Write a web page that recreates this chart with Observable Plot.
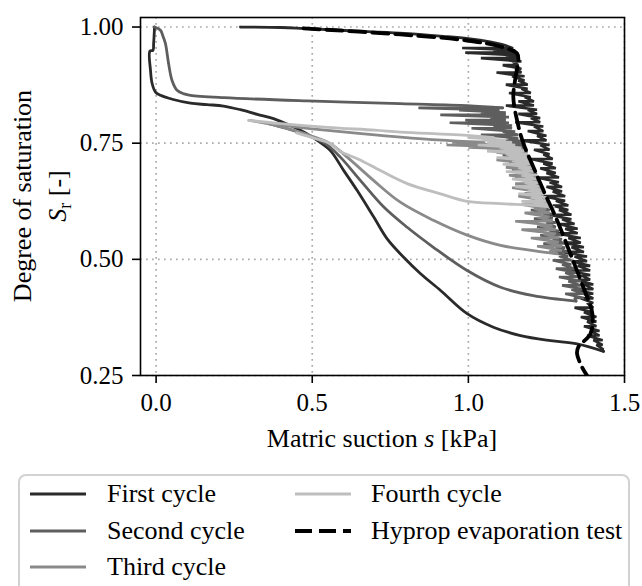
<!DOCTYPE html>
<html><head><meta charset="utf-8">
<script src="https://cdn.jsdelivr.net/npm/d3@7"></script>
<script src="https://cdn.jsdelivr.net/npm/@observablehq/plot@0.6"></script>
<style>
body{margin:0;background:#fff;font-family:"Liberation Serif","Times New Roman",serif;}
#wrap{position:relative;width:642px;height:586px;overflow:hidden;}
#legend{position:absolute;left:18px;top:474px;width:612px;height:150px;border:2px solid #d2d2d2;border-radius:8px;box-sizing:border-box;background:#fff;}
.item{position:absolute;height:30px;display:flex;align-items:center;font-size:26px;color:#000;white-space:nowrap;}
.item svg{flex:none;}
</style></head><body><div id="wrap"><div id="chart"></div><div id="legend"></div></div>
<script>
// ---- data: smooth parts are [s (kPa), Sr (-)]; noisy parts are spikes [Sr, s right, s left] ----
const firstDry = [[0.27,1.0],[0.40,0.999],[0.47,0.997],[0.62,0.992],[0.78,0.987],[0.92,0.980],[1.00,0.975],[1.07,0.968],[1.11,0.962],[1.14,0.955]];
const firstJag = [
[0.955,1.14,0.98],[0.950,1.15,1.08],[0.945,1.15,0.99],[0.939,1.16,1.12],[0.933,1.16,1.04],[0.926,1.17,1.14],[0.918,1.16,1.11],
[0.910,1.17,1.15],[0.902,1.17,1.09],[0.894,1.18,1.14],[0.885,1.18,1.16],[0.876,1.19,1.12],[0.867,1.19,1.17],[0.858,1.20,1.13],
[0.849,1.20,1.18],[0.840,1.21,1.16],[0.831,1.21,1.12],[0.822,1.22,1.19],[0.813,1.22,1.16],[0.804,1.23,1.20],[0.795,1.23,1.15],
[0.786,1.24,1.21],[0.776,1.24,1.19],[0.766,1.25,1.22],[0.756,1.25,1.17],[0.746,1.26,1.23],[0.736,1.26,1.21],[0.726,1.26,1.24],
[0.716,1.27,1.20],[0.706,1.27,1.24],[0.696,1.28,1.23],[0.686,1.28,1.25],[0.676,1.29,1.22],[0.666,1.29,1.26],[0.656,1.30,1.25],
[0.646,1.30,1.27],[0.636,1.31,1.24],[0.626,1.31,1.28],[0.616,1.32,1.27],[0.606,1.32,1.29],[0.596,1.33,1.26],[0.586,1.33,1.30],
[0.576,1.34,1.29],[0.566,1.35,1.31],[0.556,1.35,1.28],[0.546,1.36,1.32],[0.536,1.36,1.31],[0.526,1.37,1.33],[0.516,1.37,1.30],
[0.506,1.38,1.34],[0.496,1.38,1.33],[0.486,1.39,1.35],[0.476,1.39,1.32],[0.466,1.39,1.36],[0.456,1.39,1.35],[0.446,1.40,1.37],
[0.436,1.40,1.34],[0.426,1.40,1.37],[0.416,1.40,1.36],[0.406,1.40,1.38],[0.396,1.40,1.34],[0.386,1.40,1.37],[0.376,1.41,1.36],
[0.366,1.41,1.38],[0.356,1.41,1.37],[0.346,1.42,1.39],[0.336,1.42,1.38],[0.326,1.43,1.40],[0.316,1.43,1.41],[0.306,1.433,1.42],
[0.302,1.433,1.433]
];
const firstWet = [[1.433,0.302],[1.348,0.318],[1.263,0.325],[1.167,0.336],[1.080,0.354],[0.996,0.383],[0.911,0.433],[0.847,0.469],
[0.792,0.505],[0.740,0.544],[0.697,0.591],[0.644,0.648],[0.601,0.691],[0.558,0.734],[0.516,0.756],[0.484,0.770],[0.430,0.788],
[0.376,0.803],[0.324,0.812],[0.270,0.822],[0.216,0.830],[0.163,0.833],[0.110,0.836],[0.055,0.844],[0.014,0.853],[-0.002,0.860],
[-0.013,0.879],[-0.018,0.907],[-0.020,0.948],[-0.010,0.950],[-0.008,0.964],[-0.005,1.0]];

const secondDry = [[-0.005,1.0],[0.014,0.993],[0.022,0.980],[0.030,0.964],[0.040,0.921],[0.051,0.885],[0.067,0.864],[0.090,0.856],
[0.110,0.853],[0.217,0.848],[0.484,0.841],[0.782,0.835],[0.996,0.831],[1.11,0.826]];
const secondJag = [
[0.826,1.11,0.84],[0.821,1.10,0.97],[0.816,1.12,1.04],[0.811,1.12,0.91],[0.806,1.13,1.07],[0.800,1.12,0.99],[0.794,1.13,0.94],
[0.788,1.14,1.08],[0.782,1.14,1.01],[0.775,1.15,1.11],[0.768,1.16,1.04],[0.761,1.16,1.12],[0.754,1.17,1.08],[0.747,1.18,1.14],
[0.740,1.18,1.10],[0.732,1.19,1.15],[0.724,1.19,1.11],[0.716,1.20,1.17],[0.708,1.20,1.13],[0.700,1.21,1.18],[0.692,1.21,1.14],
[0.684,1.22,1.19],[0.676,1.22,1.15],[0.668,1.23,1.20],[0.660,1.23,1.17],[0.651,1.24,1.21],[0.642,1.24,1.18],[0.633,1.25,1.22],
[0.624,1.25,1.19],[0.615,1.26,1.23],[0.606,1.26,1.20],[0.597,1.27,1.24],[0.588,1.27,1.21],[0.579,1.28,1.25],[0.570,1.28,1.22],
[0.561,1.29,1.26],[0.552,1.30,1.23],[0.543,1.30,1.27],[0.534,1.31,1.24],[0.525,1.31,1.28],[0.516,1.32,1.26],[0.507,1.32,1.29],
[0.498,1.33,1.27],[0.489,1.33,1.30],[0.480,1.34,1.28],[0.471,1.35,1.31],[0.462,1.35,1.29],[0.453,1.36,1.32],[0.444,1.36,1.30],
[0.435,1.37,1.33],[0.426,1.37,1.31],[0.417,1.37,1.34],[0.410,1.345,1.345]
];
const secondWet = [[1.345,0.410],[1.208,0.422],[1.103,0.440],[0.996,0.476],[0.888,0.526],[0.804,0.569],[0.730,0.612],[0.654,0.670],
[0.590,0.720],[0.542,0.749],[0.480,0.768],[0.420,0.781],[0.360,0.792]];

const thirdDry = [[0.360,0.792],[0.50,0.781],[0.70,0.768],[0.90,0.757],[1.05,0.752]];
const thirdJag = [
[0.752,1.05,0.95],[0.746,1.12,0.93],[0.741,1.16,1.00],[0.736,1.19,1.06],[0.730,1.17,1.09],[0.722,1.19,1.13],[0.714,1.18,1.09],
[0.706,1.20,1.15],[0.698,1.19,1.12],[0.690,1.21,1.16],[0.681,1.21,1.13],[0.672,1.22,1.17],[0.663,1.22,1.15],[0.654,1.23,1.14],
[0.645,1.23,1.19],[0.636,1.24,1.16],[0.627,1.24,1.20],[0.618,1.25,1.17],[0.609,1.25,1.21],[0.600,1.26,1.18],[0.591,1.26,1.22],
[0.582,1.27,1.15],[0.573,1.27,1.23],[0.564,1.28,1.17],[0.555,1.28,1.24],[0.546,1.29,1.20],[0.537,1.29,1.25],[0.528,1.30,1.22],
[0.519,1.30,1.26],[0.512,1.284,1.284]
];
const thirdWet = [[1.284,0.512],[1.208,0.519],[1.103,0.530],[0.996,0.552],[0.888,0.584],[0.782,0.623],[0.696,0.670],[0.612,0.720],
[0.558,0.749],[0.50,0.765],[0.44,0.778],[0.38,0.789],[0.30,0.799]];

const fourthDry = [[0.296,0.799],[0.40,0.792],[0.55,0.784],[0.70,0.778],[0.782,0.774],[0.90,0.770],[0.996,0.767],[1.08,0.762]];
const fourthJag = [
[0.762,1.08,1.00],[0.757,1.12,1.04],[0.752,1.14,1.06],[0.746,1.15,1.03],[0.740,1.17,1.10],[0.733,1.18,1.06],[0.726,1.19,1.12],
[0.719,1.19,1.09],[0.712,1.20,1.14],[0.705,1.20,1.11],[0.697,1.21,1.16],[0.689,1.21,1.12],[0.681,1.22,1.17],[0.673,1.22,1.14],
[0.665,1.23,1.18],[0.657,1.23,1.15],[0.649,1.24,1.19],[0.641,1.24,1.16],[0.633,1.25,1.20],[0.625,1.25,1.17],[0.618,1.26,1.21],
[0.612,1.273,1.273]
];
const fourthWet = [[1.273,0.612],[1.208,0.616],[1.103,0.620],[0.996,0.625],[0.911,0.641],[0.804,0.663],[0.718,0.691],[0.650,0.715],
[0.590,0.732],[0.558,0.749],[0.50,0.762],[0.45,0.772]];

const hyprop = [[0.472,0.997],[0.782,0.984],[0.996,0.971],[1.103,0.958],[1.156,0.943],[1.160,0.928],[1.151,0.892],[1.144,0.849],
[1.156,0.799],[1.176,0.750],[1.208,0.699],[1.240,0.649],[1.284,0.584],[1.326,0.513],[1.368,0.440],[1.397,0.383],[1.391,0.340],
[1.352,0.311],[1.348,0.297],[1.364,0.268],[1.380,0.250]];

const seriesNames = ["First cycle","Second cycle","Third cycle","Fourth cycle","Hyprop evaporation test"];
const seriesColors = ["#2a2a2a","#5e5e5e","#8a8a8a","#bebebe","#000000"];
const xTicks = [0.0, 0.5, 1.0, 1.5];
const yTicks = [0.25, 0.50, 0.75, 1.00];

const cycles = [
  [firstDry, firstJag, firstWet],
  [secondDry, secondJag, secondWet],
  [thirdDry, thirdJag, thirdWet],
  [fourthDry, fourthJag, fourthWet]
];
const pts = (arr) => arr.map(([s, sr]) => ({s, sr}));
// each spike: out to the left at constant Sr, then on to the next spike
const spikePts = (arr) => arr.flatMap(([sr, sR, sL]) => [{s: sR, sr}, {s: sL, sr}]);

const cycleMarks = cycles.flatMap(([dry, jag, wet], i) => {
  const o = {x: "s", y: "sr", stroke: seriesColors[i], strokeWidth: 2.8, strokeLinejoin: "round", strokeLinecap: "round", clip: true};
  return [
    Plot.line(pts(dry), {...o, curve: "catmull-rom"}),
    Plot.line(spikePts(jag), {...o, strokeWidth: 2.6, strokeLinejoin: "miter"}),
    Plot.line(pts(wet), {...o, curve: "catmull-rom"})
  ];
});

const chart = Plot.plot({
  width: 642, height: 460,
  marginLeft: 140, marginRight: 18, marginTop: 17, marginBottom: 85,
  style: {fontFamily: "Liberation Serif, Times New Roman, serif", fontSize: "25px", color: "#000", background: "#fff", overflow: "visible"},
  x: {domain: [-0.05, 1.5]},
  y: {domain: [0.25, 1.0205]},
  marks: [
    Plot.ruleX(xTicks, {stroke: "#ababab", strokeWidth: 1.7, strokeDasharray: "1.7,4.3"}),
    Plot.ruleY(yTicks, {stroke: "#ababab", strokeWidth: 1.7, strokeDasharray: "1.7,4.3"}),
    ...cycleMarks,
    Plot.line(pts(hyprop), {x: "s", y: "sr", stroke: seriesColors[4], strokeWidth: 3.8, strokeDasharray: "16,7", curve: "catmull-rom", clip: true}),
    Plot.frame({stroke: "#000", strokeWidth: 1.6}),
    Plot.axisX({ticks: xTicks, tickFormat: d3.format(".1f"), tickSize: 8, tickPadding: 10, strokeWidth: 1.6, label: null, fontSize: 25}),
    Plot.axisY({ticks: yTicks, tickFormat: d3.format(".2f"), tickSize: 8, tickPadding: 9, strokeWidth: 1.6, label: null, fontSize: 25})
  ]
});
document.getElementById("chart").appendChild(chart);

// axis titles
const svg = d3.select(chart);
const xl = svg.append("text").attr("x", 382).attr("y", 447).attr("text-anchor", "middle")
  .attr("font-size", 26).attr("fill", "#000");
xl.append("tspan").text("Matric suction ");
xl.append("tspan").attr("font-style", "italic").text("s");
xl.append("tspan").text(" [kPa]");

svg.append("text").attr("transform", "translate(31,196) rotate(-90)").attr("text-anchor", "middle")
  .attr("font-size", 26).attr("fill", "#000").text("Degree of saturation");
const yl = svg.append("text").attr("transform", "translate(66,196) rotate(-90)").attr("text-anchor", "middle")
  .attr("font-size", 26).attr("fill", "#000");
yl.append("tspan").attr("font-style", "italic").text("S");
yl.append("tspan").attr("font-size", 18).attr("dy", 5).text("r");
yl.append("tspan").attr("dy", -5).text(" [-]");

// legend
const legend = d3.select("#legend");
const pos = [[10, 3], [10, 40], [10, 76], [275, 3], [275, 40]];
const textGap = [21, 21, 21, 20, 20];
seriesNames.forEach((name, i) => {
  const it = legend.append("div").attr("class", "item")
    .style("left", pos[i][0] + "px").style("top", pos[i][1] + "px");
  const sw = it.append("svg").attr("width", 56).attr("height", 30);
  sw.append("line").attr("x1", 0).attr("x2", 56).attr("y1", 15).attr("y2", 15)
    .attr("stroke", seriesColors[i]).attr("stroke-width", i === 4 ? 3.8 : 2.8)
    .attr("stroke-dasharray", i === 4 ? "17,7" : null);
  it.append("span").style("margin-left", textGap[i] + "px").text(name);
});
</script></body></html>
